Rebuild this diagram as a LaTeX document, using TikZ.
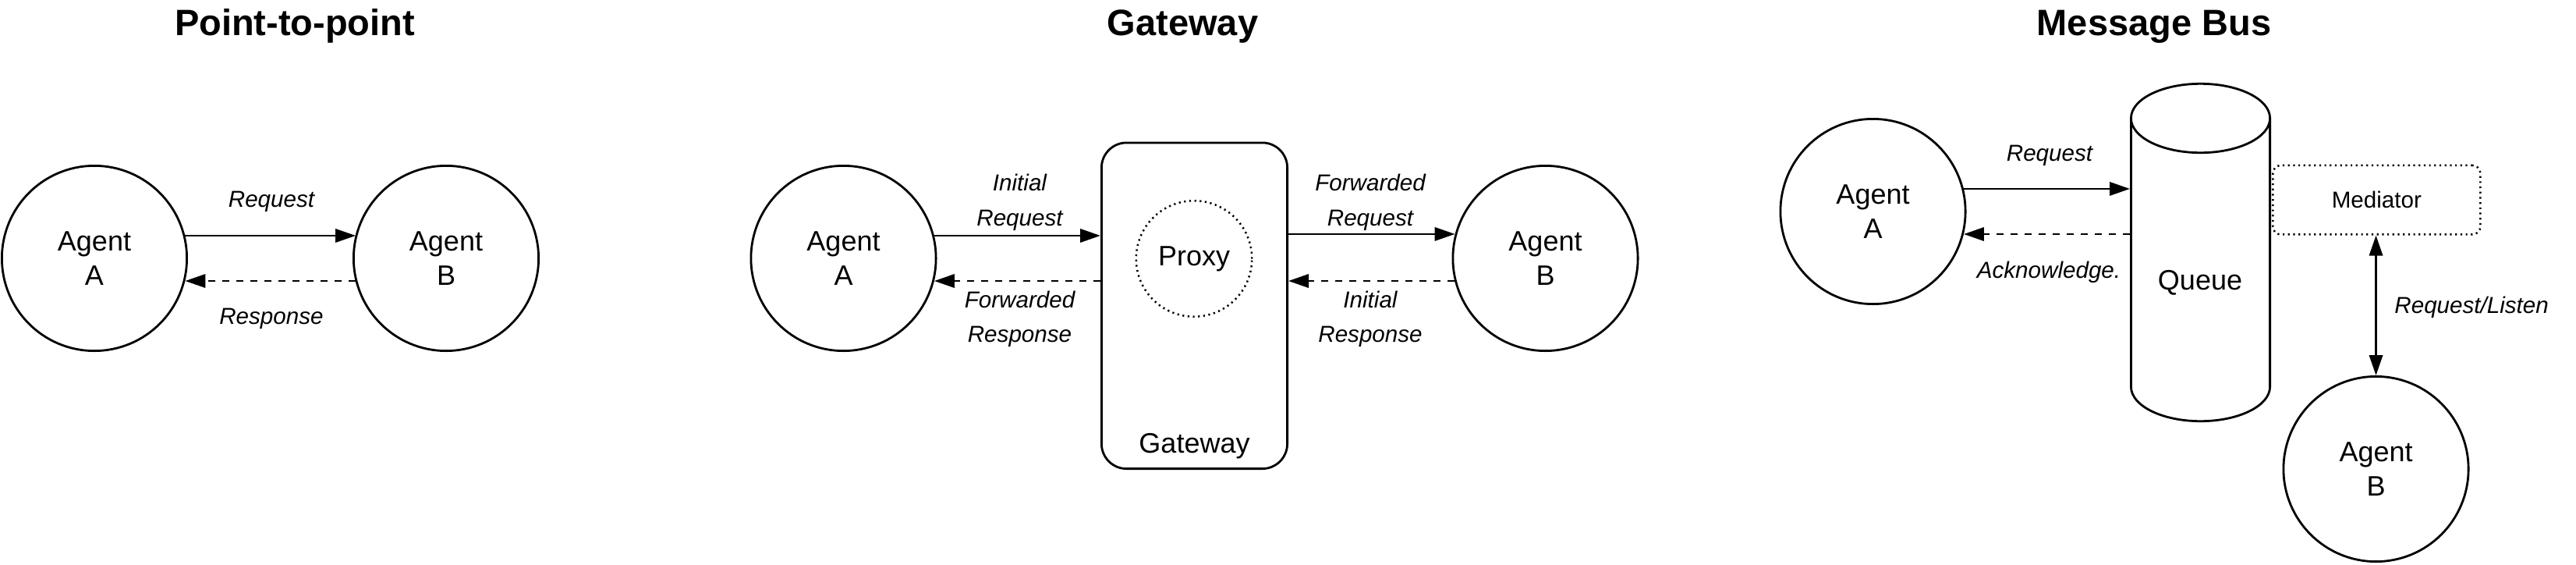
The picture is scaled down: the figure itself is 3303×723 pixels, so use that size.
\documentclass[tikz,border=0pt]{standalone}
\usepackage{fontspec}
\setmainfont{Liberation Sans}
\usetikzlibrary{arrows.meta}
\begin{document}
\begin{tikzpicture}[x=0.5pt,y=-0.5pt,
  line width=1.4pt,
  agent/.style={circle,draw,minimum size=118.6pt,inner sep=0pt,align=center,font=\fontsize{18pt}{22pt}\selectfont},
  ttl/.style={anchor=base,inner sep=0pt,font=\fontsize{23.5pt}{28pt}\selectfont\bfseries},
  lbl/.style={font=\fontsize{14.8pt}{22.25pt}\selectfont\itshape,align=center,inner sep=0pt},
  plain/.style={font=\fontsize{14.8pt}{18pt}\selectfont},
  big/.style={font=\fontsize{18pt}{22pt}\selectfont},
  req/.style={-{Triangle[length=13pt,width=8.6pt]}},
  resp/.style={-{Triangle[length=13pt,width=8.6pt]},dash pattern=on 4.4pt off 4.6pt},
  both/.style={{Triangle[length=13pt,width=8.6pt]}-{Triangle[length=13pt,width=8.6pt]}},
  dotline/.style={line width=1.25pt,dash pattern=on 1.1pt off 2.25pt},
]
\useasboundingbox (0,0) rectangle (3303,723);

% titles
\node[ttl] (t1) at (378,45) {Point-to-point};
\node[ttl] (t2) at (1516.5,45) {Gateway};
\node[ttl] (t3) at (2762,45) {Message Bus};

% ---------- Point-to-point
\node[agent] (a1) at (121,331) {Agent\\A};
\node[agent] (b1) at (572,331) {Agent\\B};
\draw[req] (a1.14.48) -- (b1.165.52 |- a1.14.48);
\draw[resp] (b1.194.48) -- (a1.-14.48 |- b1.194.48);
\node[lbl,anchor=base] (l1) at (348,265.5) {Request};
\node[lbl,anchor=base] (l2) at (348,415) {Response};

% ---------- Gateway
\node[agent] (a2) at (1081.5,331) {Agent\\A};
\node[agent] (b2) at (1981.5,331) {Agent\\B};
\node[draw,rounded corners=16pt,minimum width=119.1pt,minimum height=208.85pt,inner sep=0pt] (gw) at (1531.5,391.75) {};
\node[big,anchor=base,inner sep=0pt] (gwt) at (1531.5,580) {Gateway};
\node[circle,draw,dotline,minimum size=74.25pt,inner sep=0pt,big] (px) at (1531,331.5) {Proxy};
\draw[req] (a2.14.48) -- (a2.14.48 -| gw.west);
\draw[resp] (a2.-14.48 -| gw.west) -- (a2.-14.48);
\draw[req] (b2.165.52 -| gw.east) -- (b2.165.52);
\draw[resp] (b2.194.48) -- (b2.194.48 -| gw.east);
\node[lbl] (l3) at (1307.5,259.5) {Initial\\Request};
\node[lbl] (l4) at (1307.5,409) {Forwarded\\Response};
\node[lbl] (l5) at (1757,259.5) {Forwarded\\Request};
\node[lbl] (l6) at (1757,409) {Initial\\Response};

% ---------- Message Bus
\node[minimum width=90.5pt,minimum height=217.5pt,inner sep=0pt,outer sep=0pt] (q) at (2821.5,323.5) {};
\draw (2732.4,151.5) -- (2732.4,495.5) arc[start angle=180,end angle=360,x radius=44.55pt,y radius=22.1pt] -- (2910.6,151.5);
\draw (2821.5,151.5) ellipse[x radius=44.55pt,y radius=22.1pt];
\node[big] (qt) at (2821,362) {Queue};
\node[agent] (a3) at (2401.5,271) {Agent\\A};
\node[agent] (b3) at (3046.5,601) {Agent\\B};
\node[draw,dotline,rounded corners=5pt,minimum width=133pt,minimum height=44.25pt,inner sep=0pt,plain] (med) at (3047.3,256.2) {Mediator};
\draw[req] (a3.14.48) -- (a3.14.48 -| q.west);
\draw[resp] (a3.-14.9 -| q.west) -- (a3.-14.9);
\draw[both] (b3.north |- med.south) -- (b3.north);
\node[lbl,anchor=base] (l7) at (2628,206.5) {Request};
\node[lbl,anchor=base] (l8) at (2627,356.5) {Acknowledge.};
\node[lbl,anchor=base west] (l9) at (3069,401.5) {Request/Listen};
\end{tikzpicture}
\end{document}
